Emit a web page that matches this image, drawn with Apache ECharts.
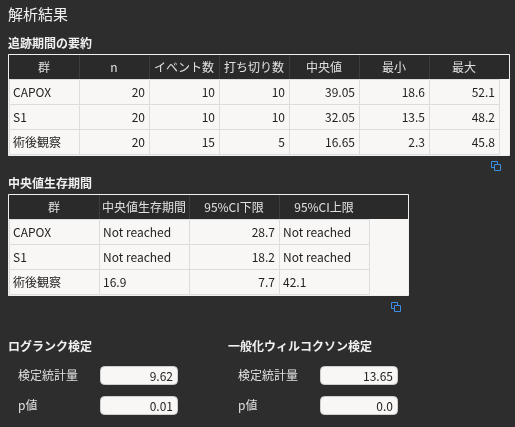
<!DOCTYPE html>
<html>
<head>
<meta charset="utf-8">
<title>解析結果</title>
<script src="https://cdn.jsdelivr.net/npm/echarts@6/dist/echarts.min.js"></script>
<style>
  html, body { margin: 0; padding: 0; background: #2d2d2d; }
  #main { width: 515px; height: 427px; }
</style>
</head>
<body>
<div id="main"></div>
<script type="text/javascript">
// 追跡期間の要約
var fuHeaders = ['群', 'n', 'イベント数', '打ち切り数', '中央値', '最小', '最大'];
var fuGroups = ['CAPOX', 'S1', '術後観察'];
var fuN = [20, 20, 20];
var fuEvents = [10, 10, 15];
var fuCensored = [10, 10, 5];
var fuMedian = ['39.05', '32.05', '16.65'];
var fuMin = ['18.6', '13.5', '2.3'];
var fuMax = ['52.1', '48.2', '45.8'];

// 中央値生存期間
var msHeaders = ['群', '中央値生存期間', '95%CI下限', '95%CI上限'];
var msGroups = ['CAPOX', 'S1', '術後観察'];
var msMedian = ['Not reached', 'Not reached', '16.9'];
var msLower = ['28.7', '18.2', '7.7'];
var msUpper = ['Not reached', 'Not reached', '42.1'];

// 検定
var logrank = { stat: '9.62', p: '0.01' };
var wilcoxon = { stat: '13.65', p: '0.0' };

var FONT = '"Noto Sans CJK JP", "Noto Sans", sans-serif';
var els = [];

function txt(x, y, s, opt) {
    opt = opt || {};
    els.push({
        type: 'text', x: x, y: y,
        style: {
            text: s, fill: opt.fill || '#222', font: (opt.weight || 'normal') + ' ' + (opt.size || 12) + 'px ' + FONT,
            textAlign: opt.align || 'left', textVerticalAlign: 'middle'
        }
    });
}
function rect(x, y, w, h, fill, stroke, r) {
    els.push({
        type: 'rect', shape: { x: x, y: y, width: w, height: h, r: r || 0 },
        style: { fill: fill, stroke: stroke || null, lineWidth: 1 }
    });
}
function copyIcon(x, y) {
    rect(x + 0.5, y + 0.5, 6, 6, 'none', '#3a8ee6');
    rect(x + 3.5, y + 3.5, 6, 6, '#2d2d2d', '#3a8ee6');
}

// table: cols widths, rows of cells, align per column (body)
function table(x, y, widths, headers, rows, aligns, fullW) {
    var hh = 24, rh = 25;
    var bodyW = widths.reduce(function (a, b) { return a + b; }, 0);
    var h = hh + rh * rows.length + 2;
    rect(x + 0.5, y + 0.5, fullW, h, '#f8f7f5', '#f0f0f0');
    rect(x + 1, y + 1, fullW - 1, hh, '#2a2a2a');
    var cx = x + 1;
    headers.forEach(function (hd, i) {
        if (i > 0) els.push({ type: 'line', shape: { x1: cx + 0.5, y1: y + 1, x2: cx + 0.5, y2: y + hh + 1 }, style: { stroke: '#3c3c3c' } });
        txt(cx + widths[i] / 2, y + 1 + hh / 2, hd, { fill: '#e0e0e0', align: 'center' });
        cx += widths[i];
    });
    rows.forEach(function (row, r) {
        var ry = y + 1 + hh + r * rh;
        var cx2 = x + 1;
        row.forEach(function (cell, i) {
            rect(cx2 + 0.5, ry + 0.5, widths[i], rh, 'none', '#dcdcdc');
            if (aligns[i] === 'right') txt(cx2 + widths[i] - 4, ry + rh / 2 + 1, String(cell), { align: 'right' });
            else txt(cx2 + 4, ry + rh / 2 + 1, String(cell));
            cx2 += widths[i];
        });
    });
}

function field(x, y, label, value) {
    txt(x, y + 9, label, { fill: '#e0e0e0' });
    rect(x + 82.5, y + 0.5, 77, 18, '#f8f7f5', '#cfcfcf', 4);
    txt(x + 155, y + 10, value, { align: 'right' });
}

txt(8, 14, '解析結果', { fill: '#f0f0f0', size: 15 });

txt(8, 43, '追跡期間の要約', { fill: '#f0f0f0', weight: 'bold' });
var fuRows = fuGroups.map(function (g, i) {
    return [g, fuN[i], fuEvents[i], fuCensored[i], fuMedian[i], fuMin[i], fuMax[i]];
});
table(8, 54, [70, 70, 70, 70, 70, 70, 70], fuHeaders, fuRows,
    ['left', 'right', 'right', 'right', 'right', 'right', 'right'], 501);
copyIcon(491, 161);

txt(8, 183, '中央値生存期間', { fill: '#f0f0f0', weight: 'bold' });
var msRows = msGroups.map(function (g, i) {
    return [g, msMedian[i], msLower[i], msUpper[i]];
});
table(8, 194, [90, 90, 90, 90], msHeaders, msRows, ['left', 'left', 'right', 'left'], 400);
copyIcon(391, 302);

txt(8, 346, 'ログランク検定', { fill: '#f0f0f0', weight: 'bold' });
txt(228, 346, '一般化ウィルコクソン検定', { fill: '#f0f0f0', weight: 'bold' });
field(18, 366, '検定統計量', logrank.stat);
field(18, 396, 'p値', logrank.p);
field(238, 366, '検定統計量', wilcoxon.stat);
field(238, 396, 'p値', wilcoxon.p);

var myChart = echarts.init(document.getElementById('main'));
myChart.setOption({
    backgroundColor: '#2d2d2d',
    animation: false,
    graphic: { elements: els }
});
</script>
</body>
</html>
